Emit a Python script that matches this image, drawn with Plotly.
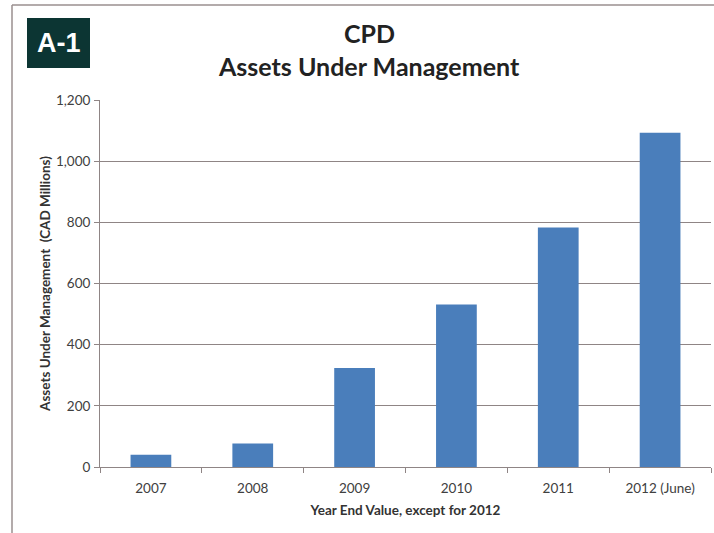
import plotly.graph_objects as go

# Assets under management, CAD millions
years = ["2007", "2008", "2009", "2010", "2011", "2012 (June)"]
assets = [40, 77, 324, 531, 783, 1093]
y_ticks = [0, 200, 400, 600, 800, 1000, 1200]
y_tick_text = ["0", "200", "400", "600", "800", "1,000", "1,200"]

W, H = 714, 533
L, R, T, B = 100, 3, 100, 66
PW, PH = W - L - R, H - T - B


def px(x):
    return (x - L) / PW


def py(y):
    return (H - B - y) / PH


GRID = "#8f8585"
FONT = "Lato"

fig = go.Figure(
    go.Bar(
        x=years,
        y=assets,
        marker=dict(color="#4a7ebb", line=dict(width=0)),
        width=0.4,
    )
)

fig.update_layout(
    width=W,
    height=H,
    margin=dict(l=L, r=R, t=T, b=B, pad=0),
    paper_bgcolor="white",
    plot_bgcolor="white",
    showlegend=False,
    font=dict(family=FONT, color="#404040"),
    xaxis=dict(
        type="category",
        showgrid=False,
        showline=True,
        linecolor=GRID,
        linewidth=1,
        ticks="outside",
        tickson="boundaries",
        ticklen=5,
        tickcolor=GRID,
        ticklabelstandoff=9,
        tickfont=dict(size=13.5, color="#404040"),
        title=dict(
            text="<b>Year End Value, except for 2012</b>",
            font=dict(size=13.5, color="#333333"),
            standoff=10,
        ),
    ),
    yaxis=dict(
        range=[0, 1200],
        tickvals=y_ticks,
        ticktext=y_tick_text,
        showgrid=True,
        gridcolor=GRID,
        gridwidth=1,
        showline=True,
        linecolor=GRID,
        linewidth=1,
        ticks="outside",
        ticklen=5,
        tickcolor=GRID,
        ticklabelstandoff=1,
        tickfont=dict(size=13.5, color="#404040"),
        zeroline=False,
        title=dict(
            text="<b>Assets Under Management  (CAD Millions)</b>",
            font=dict(size=13.5, color="#333333"),
            standoff=2,
        ),
    ),
    shapes=[
        # outer frame (left and top edges)
        dict(type="line", xref="paper", yref="paper",
             x0=px(12), x1=px(12), y0=py(5), y1=py(H + 2),
             line=dict(color="#9a8f8f", width=1.5)),
        dict(type="line", xref="paper", yref="paper",
             x0=px(12), x1=px(W + 2), y0=py(5), y1=py(5),
             line=dict(color="#9a8f8f", width=1.5)),
        # label badge
        dict(type="rect", xref="paper", yref="paper",
             x0=px(27), x1=px(90), y0=py(18), y1=py(68),
             fillcolor="#0c3533", line=dict(width=0)),
    ],
    annotations=[
        dict(text="<b>A-1</b>", xref="paper", yref="paper",
             x=px(58.5), y=py(43), xanchor="center", yanchor="middle",
             showarrow=False, font=dict(family="Liberation Sans", size=27, color="white")),
        dict(text="<b>CPD</b>", xref="paper", yref="paper",
             x=px(369), y=py(33), xanchor="center", yanchor="middle",
             showarrow=False, font=dict(family=FONT, size=25, color="#222222")),
        dict(text="<b>Assets Under Management</b>", xref="paper", yref="paper",
             x=px(369), y=py(66), xanchor="center", yanchor="middle",
             showarrow=False, font=dict(family=FONT, size=25, color="#222222")),
    ],
)

fig.write_html("out.html")
